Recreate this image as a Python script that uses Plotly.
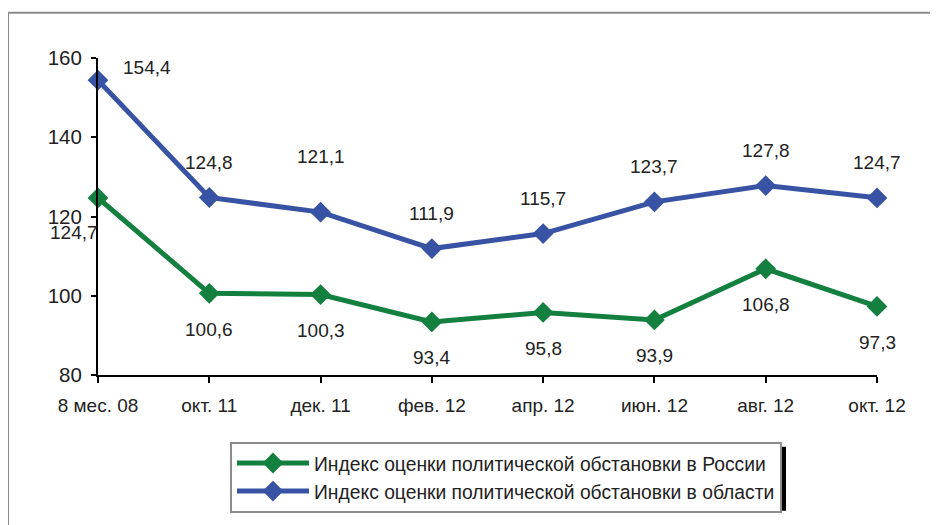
import plotly.graph_objects as go

categories = ["8 мес. 08", "окт. 11", "дек. 11", "фев. 12", "апр. 12", "июн. 12", "авг. 12", "окт. 12"]
russia = [124.7, 100.6, 100.3, 93.4, 95.8, 93.9, 106.8, 97.3]
oblast = [154.4, 124.8, 121.1, 111.9, 115.7, 123.7, 127.8, 124.7]
russia_name = "Индекс оценки политической обстановки в России"
oblast_name = "Индекс оценки политической обстановки в области"

GREEN = "#138040"
BLUE = "#3953A4"
FONT = "Liberation Sans"
TXT = "#222222"

# page body has an 8px margin, so figure coords = screen coords - 8
OFF = 8
W, H = 938 - OFF, 525 - OFF
L, R, T, B = 98 - OFF, 877 - OFF, 58 - OFF, 380 - OFF
x_idx = list(range(len(categories)))


def fmt(v):
    return f"{v:.1f}".replace(".", ",")


fig = go.Figure()
for name, vals, col in [(russia_name, russia, GREEN), (oblast_name, oblast, BLUE)]:
    fig.add_trace(go.Scatter(
        x=x_idx, y=vals, name=name, mode="lines+markers",
        line=dict(color=col, width=5),
        marker=dict(symbol="diamond", size=16, color=col),
        cliponaxis=False,
    ))

ann = []
for i, v in enumerate(oblast):
    dx, dy = 0, 35
    if i == 0:
        dx, dy = 49, 13
    if i == 2:
        dy = 56
    ann.append(dict(x=i, y=v, xref="x", yref="y", text=fmt(v), showarrow=False,
                    xshift=dx, yshift=dy, font=dict(family=FONT, size=19, color=TXT)))
for i, v in enumerate(russia):
    dx, dy = 0, -36
    if i == 0:
        dx, dy = -24, -35
    ann.append(dict(x=i, y=v, xref="x", yref="y", text=fmt(v), showarrow=False,
                    xshift=dx, yshift=dy, font=dict(family=FONT, size=19, color=TXT)))


def px(xs):
    return (xs - OFF - L) / (R - L)


def py(ys):
    return (B - (ys - OFF)) / (B - T)


shapes = [
    dict(type="rect", xref="paper", yref="paper", x0=px(8), x1=px(980), y0=py(560), y1=py(12),
         line=dict(color="#8c8c8c", width=2), fillcolor="rgba(0,0,0,0)", layer="below"),
    dict(type="rect", xref="paper", yref="paper", x0=px(235), x1=px(786), y0=py(518), y1=py(453),
         line=dict(width=0), fillcolor="black", layer="above"),
]

fig.update_layout(
    width=W, height=H,
    margin=dict(l=L, r=W - R, t=T, b=H - B),
    paper_bgcolor="white", plot_bgcolor="white",
    font=dict(family=FONT, size=19, color=TXT),
    showlegend=True,
    legend=dict(x=px(230), y=py(448), xanchor="left", yanchor="top",
                bgcolor="white", bordercolor="#8c8c8c", borderwidth=2,
                font=dict(family=FONT, size=19.3, color=TXT),
                tracegroupgap=0, itemwidth=72),
    annotations=ann,
    shapes=shapes,
    xaxis=dict(range=[0, 7], tickmode="array", tickvals=x_idx, ticktext=categories,
               showgrid=False, zeroline=False, showline=True, linecolor="black", linewidth=2,
               ticks="outside", ticklen=6, tickwidth=2, tickcolor="black",
               ticklabelstandoff=6,
               tickfont=dict(family=FONT, size=19, color=TXT)),
    yaxis=dict(range=[80, 160], tickvals=[80, 100, 120, 140, 160],
               showgrid=False, zeroline=False, showline=True, linecolor="black", linewidth=2,
               ticks="outside", ticklen=5, tickwidth=2, tickcolor="black",
               ticklabelstandoff=5,
               tickfont=dict(family=FONT, size=20.5, color=TXT)),
)

fig.write_html("out.html")
